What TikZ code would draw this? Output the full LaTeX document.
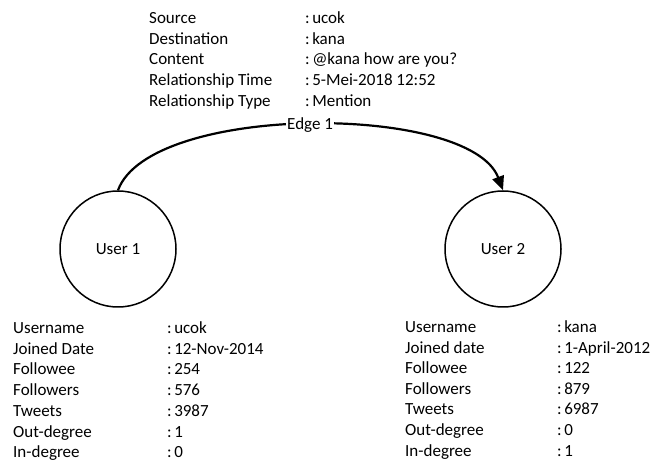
\documentclass[tikz,border=0pt]{standalone}
\usepackage{fontspec}
\setmainfont{Carlito}
\usetikzlibrary{arrows.meta}
\begin{document}
\begin{tikzpicture}[x=1pt,y=-1pt,
  txt/.style={anchor=base west,inner sep=0pt,font=\fontsize{17}{20}\selectfont},
  user/.style={draw,circle,line width=1.5pt,minimum size=116pt,inner sep=0pt,font=\fontsize{17}{20}\selectfont},
  edgeline/.style={line width=2.2pt,-{Triangle[length=14pt,width=12pt]}},
  elabel/.style={fill=white,inner sep=1pt,font=\fontsize{17}{20}\selectfont}]
\useasboundingbox (0,0) rectangle (656,462);
% top block
\foreach \k/\a/\b in {0/Source/ucok,1/Destination/kana,2/Content/@kana how are you?,3/Relationship Time/5-Mei-2018 12:52,4/Relationship Type/Mention}{
  \node[txt] (t\k) at (149,{23.8+20.6*\k}) {\a};
  \node[txt] (tv\k) at (305,{23.8+20.6*\k}) {:\hspace{2.5pt}\b};
}
% users
\node[user] (u1) at (118,249) {User 1};
\node[user] (u2) at (503,249) {User 2};
\draw[edgeline] (u1.north) .. controls (150,103) and (470,103) .. (u2.north)
  node[elabel,pos=0.5] (e1) {Edge 1};
% left table
\foreach \k/\a/\b in {0/Username/ucok,1/Joined Date/12-Nov-2014,2/Followee/254,3/Followers/576,4/Tweets/3987,5/Out-degree/1,6/In-degree/0}{
  \node[txt] (l\k) at (13,{333.5+20.7*\k}) {\a};
  \node[txt] (lv\k) at (167,{333.5+20.7*\k}) {:\hspace{2.5pt}\b};
}
% right table
\foreach \k/\a/\b in {0/Username/kana,1/Joined date/1-April-2012,2/Followee/122,3/Followers/879,4/Tweets/6987,5/Out-degree/0,6/In-degree/1}{
  \node[txt] (r\k) at (405,{332.5+20.6*\k}) {\a};
  \node[txt] (rv\k) at (557,{332.5+20.6*\k}) {:\hspace{2.5pt}\b};
}
\end{tikzpicture}
\end{document}
